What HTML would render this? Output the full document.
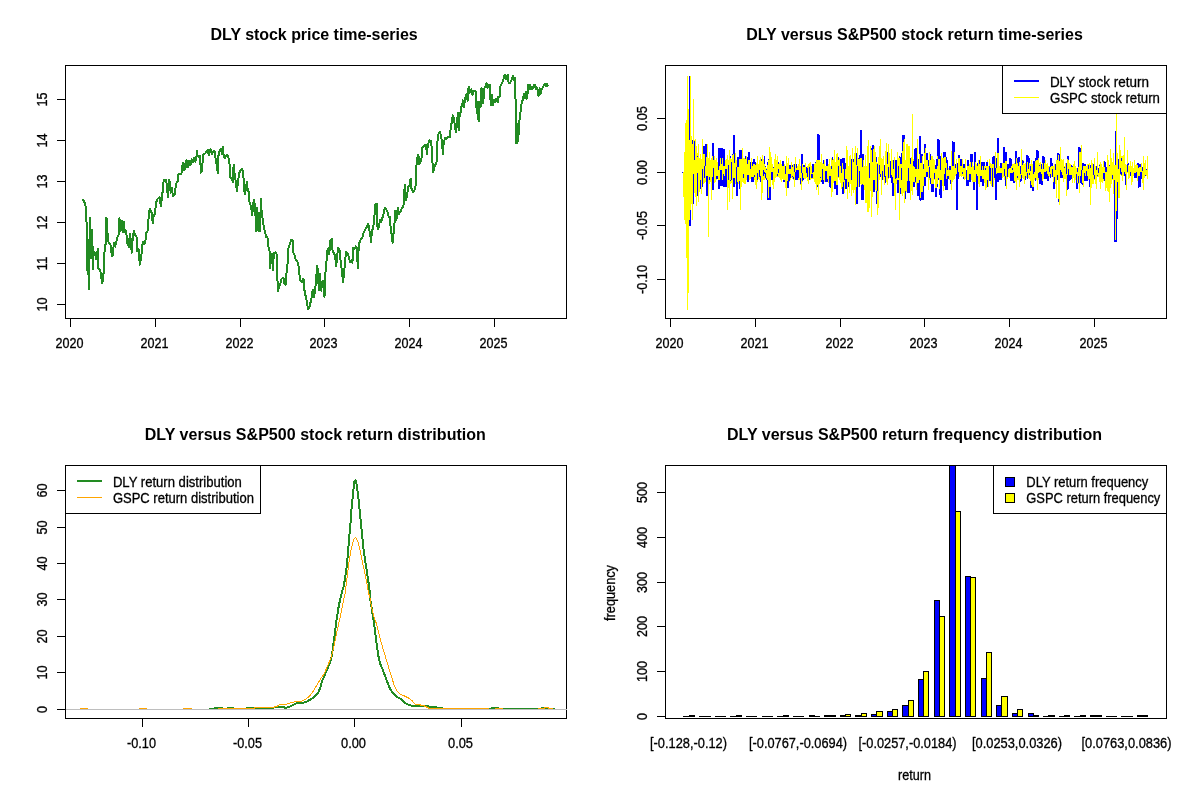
<!DOCTYPE html>
<html lang="en"><head><meta charset="utf-8"><title>DLY versus S&amp;P500</title>
<style>
html,body{margin:0;padding:0;background:#fff;}
body{width:1200px;height:800px;overflow:hidden;}
svg{display:block;font-family:'Liberation Sans', sans-serif;}
.ax{font-size:14px;fill:#000;stroke:#000;stroke-width:0.3px;}
.ti{font-size:16px;font-weight:bold;fill:#000;}
.c{shape-rendering:crispEdges;}
</style></head><body>
<svg width="1200" height="800" viewBox="0 0 1200 800">
<rect width="1200" height="800" fill="#fff"/>
<g class="c">
<rect x="65.5" y="65.5" width="501" height="253" fill="none" stroke="#000" stroke-width="1"/>
<path d="M70.5 318.5H494.5M70.5 318v9M155.5 318v9M240.5 318v9M324.5 318v9M409.5 318v9M494.5 318v9" stroke="#000" fill="none"/>
<path d="M65.5 304.5V99.5M66 304.5h-9M66 263.5h-9M66 222.5h-9M66 181.5h-9M66 140.5h-9M66 99.5h-9" stroke="#000" fill="none"/>
</g>
<text x="55.5" y="348" textLength="28" lengthAdjust="spacingAndGlyphs" class="ax">2020</text>
<text x="140.5" y="348" textLength="28" lengthAdjust="spacingAndGlyphs" class="ax">2021</text>
<text x="225.5" y="348" textLength="28" lengthAdjust="spacingAndGlyphs" class="ax">2022</text>
<text x="309.5" y="348" textLength="28" lengthAdjust="spacingAndGlyphs" class="ax">2023</text>
<text x="394.5" y="348" textLength="28" lengthAdjust="spacingAndGlyphs" class="ax">2024</text>
<text x="479.5" y="348" textLength="28" lengthAdjust="spacingAndGlyphs" class="ax">2025</text>
<text transform="translate(47,304.5) rotate(-90)" x="-7.0" y="0" textLength="14" lengthAdjust="spacingAndGlyphs" class="ax">10</text>
<text transform="translate(47,263.5) rotate(-90)" x="-7.0" y="0" textLength="14" lengthAdjust="spacingAndGlyphs" class="ax">11</text>
<text transform="translate(47,222.5) rotate(-90)" x="-7.0" y="0" textLength="14" lengthAdjust="spacingAndGlyphs" class="ax">12</text>
<text transform="translate(47,181.5) rotate(-90)" x="-7.0" y="0" textLength="14" lengthAdjust="spacingAndGlyphs" class="ax">13</text>
<text transform="translate(47,140.5) rotate(-90)" x="-7.0" y="0" textLength="14" lengthAdjust="spacingAndGlyphs" class="ax">14</text>
<text transform="translate(47,99.5) rotate(-90)" x="-7.0" y="0" textLength="14" lengthAdjust="spacingAndGlyphs" class="ax">15</text>
<text x="210.6" y="39.6" textLength="207.1" lengthAdjust="spacing" class="ti">DLY stock price time-series</text>
<path class="c" d="M82.2 199.5 L84.3 201.7 L85.5 206.2 L86.4 216.0 L87.0 247.5 L87.6 274.5 L88.2 240.0 L89.1 289.5 L90.0 218.2 L90.6 231.0 L91.2 258.0 L91.8 230.2 L92.4 240.0 L93.0 269.2 L93.6 252.0 L95.1 253.5 L96.3 259.5 L97.8 249.0 L98.1 268.5 L99.7 270.0 L100.8 273.0 L102.0 283.5 L103.2 279.0 L103.8 268.5 L104.4 253.5 L105.0 245.2 L105.7 244.5 L106.2 218.2 L107.2 219.0 L107.7 240.0 L109.2 243.3 L110.7 245.2 L111.9 256.5 L113.1 255.0 L113.7 243.0 L115.2 246.7 L116.4 241.5 L117.0 237.7 L118.5 235.2 L119.4 218.2 L120.6 231.0 L121.8 220.5 L123.0 231.7 L123.9 222.0 L124.8 232.5 L126.3 231.0 L126.9 243.0 L127.8 240.0 L128.7 247.5 L129.9 233.7 L130.8 240.0 L131.7 252.7 L132.6 240.0 L133.8 230.7 L135.0 234.7 L136.5 237.0 L137.1 251.2 L138.6 249.0 L139.8 264.7 L141.0 258.7 L141.9 250.5 L142.8 241.8 L144.3 244.5 L145.5 240.0 L146.4 232.5 L147.6 231.0 L148.2 223.5 L148.8 214.5 L149.7 208.5 L150.9 211.5 L152.1 213.7 L152.7 223.5 L153.6 216.0 L155.1 213.7 L155.0 214.0 L155.9 203.5 L157.4 199.0 L159.5 197.2 L161.0 206.5 L161.9 196.7 L162.8 190.7 L163.7 180.2 L166.1 179.8 L167.0 187.0 L167.9 197.5 L168.8 180.2 L170.0 181.7 L170.6 193.0 L171.8 187.7 L173.0 196.0 L174.8 194.8 L176.0 184.0 L177.5 181.7 L178.4 174.2 L179.9 173.5 L181.4 174.2 L182.3 166.0 L183.5 162.7 L184.4 170.5 L185.6 167.5 L186.5 160.0 L187.7 167.5 L188.9 160.7 L190.4 165.2 L191.6 159.2 L193.1 162.2 L194.3 157.7 L195.5 161.5 L196.4 157.0 L197.0 150.7 L197.6 156.2 L199.1 157.0 L200.0 155.5 L200.9 172.7 L202.1 170.5 L203.0 154.7 L204.5 154.0 L206.0 152.5 L207.8 149.5 L208.7 155.5 L210.5 149.5 L212.0 154.0 L213.5 151.0 L214.7 151.7 L215.6 158.5 L216.8 166.0 L218.0 173.5 L218.6 152.5 L219.8 151.0 L221.0 148.7 L221.9 154.0 L222.8 146.5 L223.7 155.5 L224.9 158.5 L226.7 154.7 L227.9 156.2 L229.1 160.0 L229.7 165.2 L230.3 177.2 L231.8 179.5 L233.0 181.7 L233.6 164.5 L234.5 173.5 L235.7 181.0 L236.9 191.5 L237.8 184.0 L239.0 173.5 L240.5 170.5 L242.3 168.7 L243.5 178.0 L244.7 194.5 L245.9 188.5 L246.8 181.7 L247.7 190.0 L248.6 191.5 L249.5 202.0 L251.0 206.5 L252.2 215.5 L253.1 205.0 L254.0 199.7 L255.2 208.0 L256.1 231.2 L257.3 208.0 L258.5 231.2 L260.0 230.5 L260.0 230.7 L260.9 198.5 L261.8 215.0 L263.0 219.5 L263.9 228.5 L265.1 231.5 L266.0 236.7 L267.5 237.5 L268.4 246.5 L269.6 251.0 L270.2 268.2 L271.1 257.0 L272.0 254.0 L272.9 270.5 L273.8 253.2 L275.6 252.5 L276.5 253.2 L277.1 273.5 L278.0 290.7 L279.2 286.2 L280.4 283.2 L281.6 278.7 L283.4 278.0 L284.6 284.0 L285.5 284.7 L286.4 273.5 L287.3 270.5 L287.9 251.0 L288.8 246.5 L290.0 243.5 L291.5 239.7 L292.7 240.5 L293.3 252.5 L294.5 254.7 L295.7 260.0 L297.2 261.5 L298.4 264.5 L299.3 273.5 L300.5 281.0 L302.0 281.7 L303.5 278.7 L304.4 290.0 L305.6 296.0 L306.8 301.2 L308.0 308.7 L309.2 308.0 L310.1 303.5 L311.3 300.5 L311.9 293.0 L313.1 290.0 L314.0 297.5 L315.2 288.5 L316.1 281.7 L317.0 266.0 L317.9 270.5 L318.8 290.0 L320.0 274.2 L321.2 290.7 L322.4 281.7 L323.6 281.0 L324.5 296.7 L325.1 275.0 L326.0 268.2 L327.2 251.0 L328.4 248.0 L329.3 254.0 L330.2 240.5 L331.7 239.0 L332.6 251.0 L333.8 253.2 L335.0 255.5 L336.2 266.0 L337.1 257.0 L338.0 248.0 L339.5 249.5 L340.7 261.5 L341.6 269.0 L343.1 282.5 L344.3 270.5 L345.2 260.0 L346.1 251.7 L347.6 253.2 L348.8 257.0 L350.0 262.2 L351.5 260.0 L352.4 263.0 L353.3 248.0 L354.8 248.7 L355.7 246.5 L356.9 248.0 L357.8 268.2 L358.7 246.5 L359.6 242.0 L361.1 239.0 L362.6 236.7 L363.8 232.2 L365.0 230.0 L366.5 227.7 L368.3 224.0 L369.2 230.0 L370.1 232.2 L371.0 242.0 L371.9 231.5 L372.8 228.5 L374.0 223.2 L375.2 204.5 L376.7 203.7 L377.6 229.2 L378.8 227.7 L380.0 219.5 L381.2 221.7 L382.4 218.0 L383.6 213.5 L384.8 207.5 L386.3 209.7 L387.5 212.0 L388.7 216.5 L389.9 217.2 L390.8 230.0 L392.0 236.0 L392.6 242.7 L393.5 234.5 L394.4 225.5 L395.0 211.2 L395.0 211.0 L395.9 220.0 L396.8 218.5 L397.7 208.0 L398.9 214.0 L400.4 211.7 L401.9 208.0 L403.4 207.2 L404.0 196.0 L404.9 184.7 L405.8 200.5 L407.0 196.0 L408.2 187.0 L409.4 186.2 L410.6 178.7 L411.5 188.5 L413.0 192.2 L414.5 190.0 L415.7 185.5 L416.3 167.5 L417.2 158.5 L418.4 154.7 L419.3 164.5 L420.5 161.5 L421.7 157.7 L422.3 148.0 L423.5 146.5 L425.0 145.0 L426.2 145.0 L426.8 154.0 L428.0 144.2 L429.5 140.5 L431.0 140.8 L431.9 149.5 L432.5 163.0 L433.1 172.0 L434.3 167.5 L435.5 164.5 L436.7 161.5 L437.3 143.5 L438.2 134.5 L439.7 131.5 L440.0 131.6 L441.0 135.8 L441.9 141.8 L442.9 153.8 L443.6 144.2 L444.8 138.2 L446.2 139.4 L447.7 137.0 L449.1 136.4 L450.1 137.0 L450.8 125.0 L451.8 122.6 L452.7 115.4 L453.7 117.8 L454.6 123.8 L455.8 132.2 L456.8 126.2 L457.8 113.0 L459.0 129.8 L459.7 113.0 L460.6 112.4 L461.1 106.4 L462.1 105.8 L462.8 100.4 L463.8 107.0 L464.7 102.2 L465.7 96.2 L466.6 93.8 L467.6 101.0 L468.6 86.6 L469.5 92.6 L470.5 90.8 L471.4 89.0 L472.4 95.0 L473.6 90.8 L475.5 90.8 L476.2 98.6 L476.7 113.0 L477.7 101.6 L478.6 121.4 L479.6 102.2 L480.6 107.0 L481.3 88.4 L482.2 89.0 L483.0 103.4 L483.9 96.2 L484.6 86.6 L485.6 87.2 L486.6 83.0 L487.5 87.8 L488.5 84.8 L489.7 84.8 L490.2 96.2 L490.9 105.2 L491.8 95.0 L493.0 105.2 L494.0 99.8 L495.2 102.2 L496.4 98.6 L497.6 102.2 L498.3 96.8 L499.5 97.4 L500.0 87.2 L501.2 84.8 L502.2 83.0 L503.1 80.6 L504.1 77.0 L504.8 74.6 L505.8 79.4 L506.7 78.2 L507.7 74.6 L508.6 83.0 L510.1 83.0 L511.0 80.6 L512.0 79.4 L512.7 75.8 L513.7 80.0 L514.6 77.6 L515.4 78.2 L515.6 116.6 L516.1 143.0 L516.8 127.4 L517.5 143.0 L518.2 123.8 L519.0 134.6 L519.4 121.4 L520.2 114.2 L521.1 107.0 L522.1 100.4 L523.0 99.8 L523.8 93.8 L524.7 98.0 L525.7 92.0 L526.9 98.6 L527.8 91.4 L528.3 84.8 L529.3 89.0 L530.2 84.8 L531.2 89.0 L532.6 89.0 L533.6 85.4 L534.8 84.8 L535.8 89.0 L536.7 87.2 L537.7 90.2 L538.6 96.2 L539.6 88.4 L540.6 93.8 L541.5 89.6 L542.7 87.8 L543.7 85.4 L544.9 84.2 L546.1 86.0 L547.0 83.6 L547.8 86.6" fill="none" stroke="#228B22" stroke-width="2" stroke-linejoin="round"/>
<g class="c">
<rect x="665.5" y="65.5" width="501" height="253" fill="none" stroke="#000" stroke-width="1"/>
<path d="M670.5 318.5H1094.5M670.5 318v9M755.5 318v9M840.5 318v9M924.5 318v9M1009.5 318v9M1094.5 318v9" stroke="#000" fill="none"/>
<path d="M665.5 279.5V118.5M666 279.5h-9M666 225.5h-9M666 172.5h-9M666 118.5h-9" stroke="#000" fill="none"/>
</g>
<text x="655.5" y="348" textLength="28" lengthAdjust="spacingAndGlyphs" class="ax">2020</text>
<text x="740.5" y="348" textLength="28" lengthAdjust="spacingAndGlyphs" class="ax">2021</text>
<text x="825.5" y="348" textLength="28" lengthAdjust="spacingAndGlyphs" class="ax">2022</text>
<text x="909.5" y="348" textLength="28" lengthAdjust="spacingAndGlyphs" class="ax">2023</text>
<text x="994.5" y="348" textLength="28" lengthAdjust="spacingAndGlyphs" class="ax">2024</text>
<text x="1079.5" y="348" textLength="28" lengthAdjust="spacingAndGlyphs" class="ax">2025</text>
<text transform="translate(647,279.5) rotate(-90)" x="-14.5" y="0" textLength="29" lengthAdjust="spacingAndGlyphs" class="ax">-0.10</text>
<text transform="translate(647,225.5) rotate(-90)" x="-14.5" y="0" textLength="29" lengthAdjust="spacingAndGlyphs" class="ax">-0.05</text>
<text transform="translate(647,172.5) rotate(-90)" x="-12.5" y="0" textLength="25" lengthAdjust="spacingAndGlyphs" class="ax">0.00</text>
<text transform="translate(647,118.5) rotate(-90)" x="-12.5" y="0" textLength="25" lengthAdjust="spacingAndGlyphs" class="ax">0.05</text>
<text x="746.2" y="39.6" textLength="336.6" lengthAdjust="spacing" class="ti">DLY versus S&amp;P500 stock return time-series</text>
<clipPath id="ctr"><rect x="666" y="66" width="500" height="252"/></clipPath>
<g class="c" clip-path="url(#ctr)">
<path d="M683.5 172V197M684.5 152V220M685.5 123V224M686.5 120V258M687.5 76V310M688.5 109V293M689.5 109V220M690.5 76V220M691.5 136V204M692.5 144V220M693.5 99V203M694.5 140V193M695.5 139V197M696.5 146V206M697.5 153V194M698.5 144V202M699.5 158V192M700.5 154V189M701.5 159V194M702.5 139V187M703.5 153V184M704.5 154V183M705.5 156V182M706.5 157V184M707.5 144V186M708.5 158V237M709.5 152V184M710.5 160V182M711.5 158V200M712.5 156V183M713.5 155V183M714.5 156V183M715.5 160V182M716.5 158V180M717.5 162V179M718.5 160V182M719.5 159V181M720.5 158V180M721.5 158V181M722.5 157V182M723.5 158V182M724.5 159V183M725.5 160V184M726.5 159V186M727.5 155V210M728.5 160V188M729.5 150V202M730.5 158V184M731.5 159V183M732.5 154V199M733.5 154V186M734.5 154V185M735.5 153V184M736.5 160V186M737.5 163V185M738.5 166V184M739.5 159V187M740.5 158V210M741.5 153V187M742.5 148V182M743.5 158V183M744.5 158V184M745.5 159V184M746.5 156V180M747.5 164V180M748.5 160V180M749.5 160V180M750.5 163V179M751.5 158V180M752.5 166V180M753.5 164V180M754.5 164V180M755.5 165V185M756.5 163V189M757.5 156V182M758.5 164V179M759.5 160V180M760.5 157V180M761.5 161V200M762.5 155V193M763.5 159V180M764.5 164V180M765.5 167V179M766.5 168V180M767.5 165V180M768.5 160V198M769.5 147V187M770.5 152V187M771.5 157V180M772.5 164V185M773.5 168V189M774.5 159V182M775.5 154V178M776.5 160V177M777.5 156V177M778.5 164V177M779.5 163V178M780.5 160V180M781.5 164V182M782.5 165V179M783.5 166V180M784.5 164V180M785.5 166V188M786.5 156V196M787.5 163V184M788.5 158V183M789.5 166V182M790.5 169V180M791.5 162V178M792.5 167V179M793.5 164V180M794.5 166V187M795.5 157V180M796.5 168V180M797.5 166V180M798.5 164V180M799.5 159V180M800.5 166V185M801.5 164V190M802.5 164V182M803.5 166V180M804.5 167V179M805.5 163V179M806.5 167V178M807.5 166V181M808.5 164V184M809.5 163V180M810.5 162V180M811.5 166V179M812.5 166V179M813.5 166V179M814.5 164V182M815.5 163V184M816.5 160V190M817.5 160V187M818.5 159V195M819.5 160V184M820.5 162V182M821.5 154V180M822.5 163V182M823.5 164V183M824.5 160V182M825.5 166V182M826.5 166V182M827.5 166V182M828.5 164V183M829.5 159V184M830.5 166V188M831.5 158V197M832.5 160V192M833.5 159V183M834.5 150V181M835.5 162V184M836.5 154V187M837.5 153V185M838.5 160V178M839.5 158V180M840.5 166V183M841.5 166V189M842.5 163V193M843.5 163V187M844.5 163V193M845.5 168V182M846.5 146V180M847.5 150V199M848.5 166V187M849.5 156V193M850.5 155V184M851.5 159V196M852.5 148V190M853.5 159V193M854.5 153V190M855.5 146V205M856.5 153V203M857.5 148V187M858.5 159V187M859.5 159V187M860.5 158V184M861.5 158V186M862.5 160V185M863.5 158V187M864.5 166V190M865.5 155V203M866.5 166V203M867.5 146V212M868.5 140V212M869.5 163V208M870.5 146V191M871.5 150V217M872.5 149V197M873.5 149V192M874.5 146V180M875.5 152V190M876.5 162V193M877.5 163V215M878.5 157V208M879.5 146V180M880.5 139V177M881.5 158V195M882.5 159V180M883.5 156V180M884.5 166V185M885.5 151V183M886.5 143V182M887.5 164V185M888.5 144V179M889.5 153V178M890.5 162V178M891.5 149V182M892.5 160V183M893.5 169V190M894.5 157V196M895.5 166V210M896.5 163V184M897.5 152V184M898.5 158V193M899.5 158V220M900.5 164V193M901.5 164V194M902.5 151V196M903.5 139V193M904.5 139V203M905.5 160V199M906.5 144V192M907.5 144V192M908.5 146V192M909.5 146V193M910.5 158V200M911.5 157V191M912.5 114V195M913.5 159V187M914.5 167V184M915.5 169V183M916.5 153V190M917.5 139V192M918.5 169V196M919.5 154V200M920.5 154V199M921.5 156V192M922.5 156V192M923.5 169V192M924.5 148V186M925.5 148V185M926.5 160V177M927.5 160V176M928.5 166V190M929.5 152V180M930.5 160V183M931.5 156V186M932.5 156V186M933.5 159V184M934.5 160V180M935.5 166V188M936.5 166V188M937.5 156V184M938.5 156V180M939.5 159V189M940.5 170V190M941.5 153V182M942.5 158V186M943.5 157V191M944.5 157V184M945.5 157V184M946.5 163V189M947.5 170V180M948.5 168V179M949.5 170V180M950.5 166V184M951.5 151V190M952.5 166V182M953.5 152V180M954.5 152V179M955.5 168V176M956.5 159V177M957.5 174V176M958.5 158V179M959.5 158V177M960.5 166V176M961.5 166V177M962.5 159V176M963.5 168V179M964.5 164V180M965.5 159V179M966.5 170V180M967.5 166V182M968.5 160V180M969.5 164V180M970.5 162V182M971.5 162V180M972.5 162V182M973.5 166V189M974.5 162V184M975.5 162V182M976.5 164V180M977.5 166V180M978.5 160V184M979.5 164V187M980.5 156V180M981.5 168V182M982.5 166V182M983.5 163V182M984.5 163V183M985.5 166V190M986.5 163V188M987.5 160V180M988.5 166V187M989.5 159V180M990.5 163V184M991.5 164V186M992.5 164V187M993.5 158V187M994.5 158V180M995.5 152V180M996.5 168V180M997.5 153V180M998.5 152V179M999.5 166V178M1000.5 168V178M1001.5 164V178M1002.5 163V178M1003.5 163V177M1004.5 163V180M1005.5 161V180M1006.5 161V189M1007.5 169V179M1008.5 164V177M1009.5 168V178M1010.5 158V179M1011.5 159V179M1012.5 164V179M1013.5 164V180M1014.5 163V181M1015.5 160V182M1016.5 158V190M1017.5 163V180M1018.5 164V180M1019.5 162V187M1020.5 166V179M1021.5 149V179M1022.5 164V178M1023.5 160V179M1024.5 164V184M1025.5 163V179M1026.5 166V178M1027.5 162V177M1028.5 166V178M1029.5 163V179M1030.5 164V182M1031.5 160V187M1032.5 164V187M1033.5 161V187M1034.5 172V180M1035.5 158V179M1036.5 159V180M1037.5 159V190M1038.5 158V180M1039.5 163V180M1040.5 162V180M1041.5 164V180M1042.5 163V181M1043.5 163V179M1044.5 163V178M1045.5 160V178M1046.5 164V178M1047.5 163V178M1048.5 166V178M1049.5 166V177M1050.5 167V177M1051.5 166V177M1052.5 163V177M1053.5 166V182M1054.5 164V180M1055.5 164V184M1056.5 160V198M1057.5 160V180M1058.5 154V199M1059.5 160V205M1060.5 147V178M1061.5 159V177M1062.5 160V178M1063.5 159V182M1064.5 166V179M1065.5 163V179M1066.5 170V196M1067.5 159V180M1068.5 160V180M1069.5 163V180M1070.5 164V179M1071.5 167V179M1072.5 166V183M1073.5 164V178M1074.5 161V183M1075.5 166V180M1076.5 168V180M1077.5 168V183M1078.5 167V184M1079.5 152V193M1080.5 152V182M1081.5 145V184M1082.5 166V184M1083.5 166V187M1084.5 166V180M1085.5 166V180M1086.5 166V180M1087.5 164V180M1088.5 164V180M1089.5 163V186M1090.5 168V205M1091.5 160V188M1092.5 163V184M1093.5 170V184M1094.5 158V180M1095.5 166V184M1096.5 170V189M1097.5 152V177M1098.5 172V177M1099.5 164V182M1100.5 162V189M1101.5 164V182M1102.5 167V183M1103.5 161V181M1104.5 166V181M1105.5 167V191M1106.5 167V188M1107.5 155V191M1108.5 160V192M1109.5 165V202M1110.5 149V188M1111.5 158V184M1112.5 162V180M1113.5 153V194M1114.5 165V180M1115.5 165V240M1116.5 109V240M1117.5 153V182M1118.5 159V198M1119.5 145V198M1120.5 150V175M1121.5 156V176M1122.5 156V181M1123.5 155V176M1124.5 137V176M1125.5 164V185M1126.5 165V190M1127.5 150V173M1128.5 165V179M1129.5 166V178M1130.5 161V176M1131.5 166V185M1132.5 162V182M1133.5 168V176M1134.5 160V178M1135.5 165V178M1136.5 164V178M1137.5 165V181M1138.5 165V188M1139.5 164V187M1140.5 167V187M1141.5 163V179M1142.5 167V183M1143.5 156V190M1144.5 163V178M1145.5 160V176M1146.5 169V176M1147.5 156V179" stroke="#FFFF00" stroke-width="1" fill="none"/>
<path d="M682 172h1v1h-1zM689 76h1v64h-1zM692 140h1v4h-1zM694 141h1v19h-1zM697 156h1v1h-1zM703 146h2v8h-2zM705 144h2v13h-2zM705 157h1v9h-1zM712 143h2v13h-2zM713 156h1v4h-1zM718 148h2v18h-2zM720 148h3v10h-3zM723 149h2v17h-2zM721 158h1v6h-1zM730 156h1v2h-1zM732 154h1v1h-1zM733 135h2v19h-2zM734 154h1v9h-1zM737 157h2v10h-2zM739 150h3v9h-3zM745 156h1v3h-1zM747 157h1v7h-1zM748 152h2v8h-2zM750 162h1v7h-1zM752 162h1v4h-1zM753 159h2v5h-2zM755 162h1v3h-1zM761 159h1v2h-1zM764 156h1v8h-1zM765 166h1v1h-1zM766 169h1v1h-1zM767 162h1v3h-1zM768 159h1v1h-1zM773 167h1v1h-1zM778 162h1v2h-1zM778 169h1v4h-1zM782 161h2v5h-2zM785 166h1v7h-1zM789 165h2v4h-2zM792 165h1v2h-1zM794 164h1v8h-1zM796 164h1v4h-1zM801 154h2v10h-2zM801 164h1v9h-1zM803 165h2v2h-2zM806 167h1v6h-1zM809 167h1v10h-1zM812 164h2v8h-2zM815 162h1v1h-1zM817 134h2v26h-2zM819 135h1v25h-1zM823 160h1v4h-1zM826 159h2v7h-2zM693 174h1v4h-1zM697 173h1v5h-1zM702 169h1v9h-1zM704 166h1v12h-1zM713 168h1v10h-1zM716 176h2v2h-2zM718 166h1v4h-1zM720 170h2v8h-2zM723 174h1v4h-1zM725 169h2v9h-2zM728 165h1v13h-1zM731 162h1v16h-1zM736 167h1v11h-1zM743 174h1v4h-1zM757 173h1v4h-1zM759 170h1v7h-1zM763 170h1v6h-1zM765 173h1v4h-1zM772 172h1v6h-1zM789 174h2v4h-2zM795 172h4v6h-4zM802 173h1v5h-1zM807 168h1v5h-1zM811 174h2v4h-2zM822 169h1v9h-1zM825 171h2v7h-2zM689 220h2v6h-2zM690 210h1v10h-1zM693 176h1v28h-1zM697 173h1v23h-1zM700 180h1v9h-1zM702 169h1v18h-1zM704 168h1v6h-1zM706 176h2v20h-2zM709 177h1v3h-1zM712 177h2v13h-2zM713 168h1v9h-1zM716 176h2v3h-2zM718 180h2v9h-2zM718 168h1v2h-1zM720 170h2v16h-2zM722 180h1v6h-1zM723 176h2v11h-2zM725 170h2v17h-2zM728 168h1v12h-1zM730 180h1v1h-1zM731 168h1v12h-1zM733 178h2v9h-2zM736 168h1v14h-1zM736 182h2v14h-2zM739 181h1v8h-1zM743 174h1v3h-1zM747 175h2v7h-2zM751 177h3v5h-3zM754 175h1v2h-1zM757 173h1v7h-1zM759 172h1v4h-1zM760 176h1v6h-1zM763 172h2v2h-2zM765 173h1v5h-1zM766 178h1v2h-1zM767 180h1v20h-1zM769 187h2v13h-2zM768 198h1v2h-1zM771 172h2v8h-2zM777 174h1v2h-1zM778 169h1v4h-1zM783 180h2v2h-2zM785 168h1v6h-1zM787 181h2v7h-2zM788 174h2v7h-2zM790 168h1v1h-1zM792 176h1v1h-1zM793 177h1v2h-1zM794 168h1v4h-1zM795 174h3v6h-3zM796 170h3v4h-3zM800 178h1v6h-1zM801 168h1v5h-1zM802 173h1v8h-1zM803 178h1v2h-1zM806 168h1v3h-1zM807 171h1v6h-1zM809 173h1v7h-1zM811 174h2v3h-2zM812 168h1v5h-1zM817 185h1v2h-1zM820 177h1v1h-1zM821 180h1v2h-1zM822 169h1v11h-1zM822 180h2v4h-2zM825 171h2v11h-2zM827 179h1v3h-1zM829 176h1v11h-1zM832 157h1v3h-1zM831 166h1v3h-1zM838 157h1v3h-1zM838 166h1v11h-1zM840 159h2v7h-2zM841 166h1v7h-1zM842 158h3v5h-3zM843 163h3v6h-3zM844 169h1v9h-1zM851 159h1v19h-1zM853 159h1v3h-1zM856 153h1v12h-1zM857 166h1v12h-1zM859 155h1v4h-1zM858 158h1v1h-1zM860 130h2v28h-2zM862 154h2v6h-2zM862 160h1v7h-1zM859 171h1v7h-1zM869 163h1v15h-1zM871 148h1v2h-1zM872 145h2v4h-2zM872 149h1v13h-1zM876 157h1v5h-1zM877 164h1v14h-1zM879 165h1v8h-1zM880 174h1v3h-1zM882 171h1v7h-1zM884 165h1v12h-1zM887 152h1v12h-1zM888 167h1v10h-1zM890 161h1v12h-1zM890 175h2v3h-2zM893 160h1v9h-1zM895 160h2v10h-2zM896 170h1v8h-1zM898 166h1v12h-1zM899 156h1v2h-1zM900 157h1v7h-1zM901 153h1v11h-1zM902 135h1v16h-1zM903 135h2v4h-2zM903 139h1v3h-1zM908 168h1v10h-1zM910 158h1v6h-1zM913 161h1v5h-1zM914 149h1v18h-1zM915 148h2v21h-2zM918 159h1v10h-1zM919 136h2v18h-2zM920 154h2v9h-2zM921 154h2v2h-2zM923 164h1v5h-1zM924 144h2v4h-2zM924 148h1v5h-1zM926 153h2v7h-2zM927 173h1v4h-1zM928 160h1v6h-1zM929 167h1v11h-1zM930 154h1v6h-1zM934 173h1v5h-1zM935 165h2v4h-2zM936 159h2v7h-2zM937 139h2v17h-2zM938 140h2v19h-2zM940 156h1v14h-1zM943 152h3v5h-3zM943 157h1v1h-1zM946 157h1v6h-1zM947 160h1v10h-1zM944 174h2v4h-2zM945 170h1v4h-1zM949 166h2v4h-2zM952 141h1v25h-1zM953 142h2v10h-2zM953 152h1v14h-1zM955 164h1v4h-1zM957 163h1v11h-1zM958 155h2v3h-2zM960 159h2v7h-2zM962 172h1v2h-1zM963 164h2v4h-2zM966 170h1v8h-1zM967 160h2v6h-2zM970 154h3v8h-3zM971 162h1v5h-1zM974 152h2v10h-2zM974 162h1v8h-1zM977 163h1v3h-1zM979 160h1v4h-1zM956 174h1v4h-1zM969 174h2v4h-2zM976 174h1v4h-1zM981 162h1v8h-1zM982 162h3v4h-3zM983 166h1v4h-1zM986 162h2v4h-2zM989 166h1v12h-1zM992 157h2v7h-2zM993 156h2v2h-2zM994 158h1v10h-1zM994 168h2v8h-2zM996 158h1v10h-1zM997 138h2v15h-2zM1000 163h2v5h-2zM1003 147h2v16h-2zM1005 152h2v9h-2zM1007 164h2v5h-2zM1009 158h2v10h-2zM994 168h2v10h-2zM998 173h4v5h-4zM1104 161h1v6h-1zM1105 162h1v6h-1zM1106 167h1v5h-1zM1109 165h1v1h-1zM1115 131h1v34h-1zM1118 159h1v10h-1zM1121 158h1v3h-1zM1120 168h1v4h-1zM1121 172h1v2h-1zM1103 173h2v5h-2zM1112 175h1v3h-1zM1124 172h1v3h-1zM1125 174h1v4h-1zM1127 164h1v8h-1zM1128 163h1v2h-1zM1137 163h2v2h-2zM1138 165h1v3h-1zM1139 164h2v3h-2zM1142 167h1v4h-1zM1146 169h1v1h-1zM1130 172h1v4h-1zM1134 173h3v5h-3zM1136 172h1v2h-1zM1138 176h2v2h-2zM1140 172h2v6h-2zM1145 175h1v1h-1zM830 176h1v12h-1zM834 181h2v8h-2zM836 185h2v10h-2zM838 168h1v9h-1zM841 168h1v5h-1zM842 187h2v7h-2zM843 182h1v5h-1zM844 168h1v12h-1zM845 179h2v10h-2zM848 182h1v5h-1zM851 168h1v12h-1zM856 187h2v17h-2zM857 168h1v19h-1zM859 171h1v16h-1zM861 185h3v15h-3zM862 184h1v2h-1zM869 168h1v10h-1zM873 180h2v12h-2zM876 191h1v13h-1zM877 168h1v23h-1zM879 168h1v6h-1zM880 174h1v3h-1zM882 171h1v9h-1zM884 168h1v8h-1zM885 176h1v7h-1zM888 168h1v10h-1zM890 168h1v9h-1zM891 177h2v6h-2zM892 183h2v13h-2zM895 168h1v11h-1zM897 180h2v13h-2zM900 188h1v6h-1zM901 168h1v12h-1zM905 191h1v8h-1zM907 181h3v12h-3zM908 168h1v13h-1zM913 182h2v5h-2zM915 177h1v5h-1zM917 183h2v13h-2zM919 180h1v20h-1zM920 198h1v3h-1zM921 192h3v8h-3zM923 186h1v6h-1zM924 177h2v9h-2zM926 172h2v5h-2zM929 168h1v10h-1zM930 178h1v6h-1zM931 184h3v8h-3zM934 173h1v6h-1zM935 188h2v9h-2zM937 184h1v3h-1zM938 178h1v2h-1zM939 189h1v6h-1zM940 180h2v18h-2zM944 174h2v12h-2zM945 179h3v11h-3zM945 168h1v6h-1zM947 176h2v3h-2zM950 180h1v4h-1zM956 174h2v36h-2zM957 168h1v6h-1zM958 172h1v7h-1zM962 172h1v2h-1zM963 177h1v2h-1zM966 170h1v10h-1zM966 180h3v6h-3zM969 174h2v8h-2zM973 182h2v8h-2zM976 176h2v34h-2zM980 176h2v6h-2zM982 179h2v7h-2zM985 168h1v2h-1zM987 180h1v7h-1zM989 168h2v13h-2zM992 168h1v19h-1zM994 168h2v6h-2zM995 174h2v26h-2zM997 173h2v9h-2zM999 175h3v5h-3zM1004 169h1v7h-1zM1005 176h1v10h-1zM1007 169h1v8h-1zM1058 199h1v3h-1zM1105 168h2v4h-2zM1103 176h1v3h-1zM1104 173h1v8h-1zM1112 175h1v4h-1zM1114 180h1v62h-1zM1115 240h2v2h-2zM1116 211h1v31h-1zM1117 182h1v37h-1zM1118 168h1v1h-1zM1120 168h1v6h-1zM1121 172h1v3h-1zM1124 172h1v4h-1zM1125 174h1v11h-1zM1127 168h1v4h-1zM1130 172h1v4h-1zM1134 173h3v5h-3zM1136 172h1v1h-1zM1138 176h1v12h-1zM1139 178h2v9h-2zM1140 172h2v7h-2zM1142 168h1v3h-1zM1145 175h1v1h-1zM1146 169h1v1h-1zM1010 173h1v8h-1zM1011 159h1v7h-1zM1011 173h1v8h-1zM1012 168h1v2h-1zM1012 173h1v8h-1zM1013 172h1v11h-1zM1014 181h1v2h-1zM1015 151h1v13h-1zM1016 151h1v7h-1zM1017 158h1v5h-1zM1017 176h1v2h-1zM1018 157h1v9h-1zM1019 157h1v5h-1zM1020 166h1v8h-1zM1020 179h1v3h-1zM1021 175h1v6h-1zM1022 160h1v5h-1zM1023 161h1v2h-1zM1025 176h1v4h-1zM1026 155h1v17h-1zM1027 155h1v7h-1zM1027 173h1v6h-1zM1028 156h1v13h-1zM1029 158h1v5h-1zM1029 173h1v2h-1zM1030 166h1v5h-1zM1030 181h1v7h-1zM1031 185h1v3h-1zM1032 187h1v4h-1zM1033 161h1v13h-1zM1033 187h1v4h-1zM1034 161h1v11h-1zM1035 158h1v3h-1zM1035 178h1v3h-1zM1036 150h1v10h-1zM1037 150h1v10h-1zM1038 151h1v7h-1zM1038 173h1v5h-1zM1039 165h1v1h-1zM1039 172h1v12h-1zM1040 172h1v12h-1zM1041 164h1v5h-1zM1041 174h1v11h-1zM1042 156h1v7h-1zM1042 181h1v4h-1zM1043 156h1v13h-1zM1044 157h1v6h-1zM1044 172h1v7h-1zM1045 172h1v7h-1zM1046 171h1v8h-1zM1047 174h1v7h-1zM1048 176h1v5h-1zM1049 167h1v5h-1zM1050 158h1v9h-1zM1050 174h1v4h-1zM1051 158h1v8h-1zM1052 163h1v3h-1zM1052 169h1v8h-1zM1053 182h1v7h-1zM1054 177h1v12h-1zM1055 164h1v6h-1zM1057 153h1v7h-1zM1057 175h1v5h-1zM1058 153h1v2h-1zM1059 154h1v7h-1zM1060 170h1v8h-1zM1061 172h1v6h-1zM1062 175h1v3h-1zM1064 167h1v1h-1zM1066 163h1v11h-1zM1067 156h1v3h-1zM1067 175h1v15h-1zM1068 156h1v4h-1zM1068 169h1v20h-1zM1069 175h1v6h-1zM1070 175h1v5h-1zM1071 165h1v2h-1zM1071 175h1v4h-1zM1072 166h1v1h-1zM1076 174h1v15h-1zM1077 168h1v4h-1zM1077 183h1v6h-1zM1078 147h1v20h-1zM1078 176h1v7h-1zM1079 147h1v5h-1zM1080 148h1v4h-1zM1080 176h1v7h-1zM1081 170h1v14h-1zM1082 163h1v7h-1zM1082 183h1v2h-1zM1083 163h1v3h-1zM1084 164h1v2h-1zM1084 173h1v8h-1zM1085 164h1v2h-1zM1085 176h1v5h-1zM1086 171h1v10h-1zM1087 176h1v5h-1zM1088 165h1v4h-1zM1089 179h1v8h-1zM1090 165h1v3h-1zM1093 164h1v11h-1zM1094 175h1v4h-1zM1096 166h1v4h-1zM1097 175h1v1h-1zM1098 168h1v5h-1zM1099 165h1v1h-1z" fill="#0000FF" stroke="none"/>
</g>
<g class="c"><rect x="1002.5" y="65.5" width="164" height="48" fill="#fff" stroke="#000"/>
<path d="M1014 81H1039" stroke="#0000FF" stroke-width="2"/><path d="M1014 97.5H1039" stroke="#FFFF00" stroke-width="1"/></g>
<text x="1049.9" y="86.7" textLength="99" lengthAdjust="spacingAndGlyphs" class="ax">DLY stock return</text>
<text x="1049.9" y="102.7" textLength="110" lengthAdjust="spacingAndGlyphs" class="ax">GSPC stock return</text>
<g class="c">
<rect x="65.5" y="465.5" width="501" height="253" fill="none" stroke="#000" stroke-width="1"/>
</g>
<text x="144.7" y="439.6" textLength="341.2" lengthAdjust="spacing" class="ti">DLY versus S&amp;P500 stock return distribution</text>
<text x="727.0" y="439.6" textLength="375.0" lengthAdjust="spacing" class="ti">DLY versus S&amp;P500 return frequency distribution</text>
<g class="c">
<path d="M142.5 718v9M248.5 718v9M354.5 718v9M461.5 718v9" stroke="#000" fill="none"/>
<path d="M66 709.5h-9M66 672.5h-9M66 636.5h-9M66 599.5h-9M66 563.5h-9M66 527.5h-9M66 490.5h-9" stroke="#000" fill="none"/>
</g>
<text x="127.0" y="748" textLength="29" lengthAdjust="spacingAndGlyphs" class="ax">-0.10</text>
<text x="233.0" y="748" textLength="29" lengthAdjust="spacingAndGlyphs" class="ax">-0.05</text>
<text x="341.0" y="748" textLength="25" lengthAdjust="spacingAndGlyphs" class="ax">0.00</text>
<text x="448.0" y="748" textLength="25" lengthAdjust="spacingAndGlyphs" class="ax">0.05</text>
<text transform="translate(47,709.5) rotate(-90)" x="-3.5" y="0" textLength="7" lengthAdjust="spacingAndGlyphs" class="ax">0</text>
<text transform="translate(47,672.5) rotate(-90)" x="-7.0" y="0" textLength="14" lengthAdjust="spacingAndGlyphs" class="ax">10</text>
<text transform="translate(47,636.5) rotate(-90)" x="-7.0" y="0" textLength="14" lengthAdjust="spacingAndGlyphs" class="ax">20</text>
<text transform="translate(47,599.5) rotate(-90)" x="-7.0" y="0" textLength="14" lengthAdjust="spacingAndGlyphs" class="ax">30</text>
<text transform="translate(47,563.5) rotate(-90)" x="-7.0" y="0" textLength="14" lengthAdjust="spacingAndGlyphs" class="ax">40</text>
<text transform="translate(47,527.5) rotate(-90)" x="-7.0" y="0" textLength="14" lengthAdjust="spacingAndGlyphs" class="ax">50</text>
<text transform="translate(47,490.5) rotate(-90)" x="-7.0" y="0" textLength="14" lengthAdjust="spacingAndGlyphs" class="ax">60</text>
<path class="c" d="M209.0 709.0 L214.0 709.0 L214.5 708.0 L222.0 708.0 L222.5 709.0 L227.0 709.0 L227.5 708.0 L233.0 708.0 L235.0 709.0 L246.0 709.0 L246.5 708.0 L254.0 708.0 L254.5 709.0 L272.0 709.0 L270.0 707.9 L275.4 707.4 L280.8 706.6 L286.2 707.9 L289.8 706.6 L293.4 704.8 L297.9 702.5 L301.5 703.0 L306.0 702.0 L311.4 698.9 L315.0 696.2 L318.2 692.6 L320.4 687.2 L322.2 680.9 L324.9 674.6 L327.6 668.3 L330.3 662.0 L331.7 656.6 L333.0 647.6 L334.4 636.8 L335.7 626.0 L337.0 617.0 L338.4 608.0 L340.2 599.0 L342.0 591.8 L343.8 586.0 L345.2 577.0 L346.5 568.0 L347.4 559.0 L348.3 550.0 L348.8 541.0 L349.7 532.0 L350.5 523.0 L351.0 514.0 L351.9 505.0 L352.8 496.0 L353.7 487.0 L354.4 481.6 L355.3 480.2 L356.2 481.6 L356.9 487.0 L358.2 496.0 L359.1 505.0 L360.0 514.0 L360.9 523.0 L361.8 532.0 L362.7 541.0 L363.6 550.0 L364.9 559.0 L366.3 568.0 L367.7 577.0 L369.0 586.0 L370.1 595.0 L370.1 599.0 L371.7 608.0 L373.0 617.0 L374.4 626.0 L375.8 636.8 L377.1 647.6 L378.5 656.6 L380.2 663.8 L382.5 669.2 L385.2 676.4 L387.9 683.6 L389.7 688.1 L392.4 692.6 L396.0 696.2 L400.5 698.9 L404.1 702.5 L407.7 704.3 L410.4 705.2 L411.3 705.8 L428.0 706.0 L429.0 707.0 L436.5 707.0 L437.0 708.0 L442.5 708.0 L443.0 709.0 L491.0 709.0 L491.5 708.0 L498.5 708.0 L499.0 709.0 L541.0 709.0 L541.5 708.0 L544.0 708.0 L544.5 709.0 L554.7 709.0" fill="none" stroke="#228B22" stroke-width="2" stroke-linejoin="round"/>
<path class="c" d="M80.0 708.4 L88.0 708.4" fill="none" stroke="#FFA500" stroke-width="1"/>
<path class="c" d="M139.0 708.4 L147.0 708.4" fill="none" stroke="#FFA500" stroke-width="1"/>
<path class="c" d="M183.0 708.4 L192.0 708.4" fill="none" stroke="#FFA500" stroke-width="1"/>
<path class="c" d="M218.0 708.5 L254.0 708.5 L254.0 707.5 L274.0 707.5 L274.0 706.5 L277.0 706.5 L278.1 705.2 L280.1 704.5 L286.2 704.3 L291.6 702.5 L296.1 701.6 L301.5 701.1 L306.0 698.9 L309.6 696.2 L312.3 692.6 L315.0 688.1 L317.7 683.6 L320.4 679.1 L323.1 675.5 L325.8 670.1 L328.5 663.8 L331.2 657.5 L333.0 650.3 L334.8 642.2 L336.6 633.2 L338.4 625.1 L340.2 617.0 L342.0 608.0 L343.8 599.0 L345.6 591.8 L345.2 593.2 L346.5 582.4 L347.8 571.6 L349.2 560.8 L351.0 550.0 L352.8 542.8 L354.1 538.7 L355.3 537.4 L356.6 538.7 L358.2 542.8 L360.0 550.0 L362.2 560.8 L364.5 571.6 L366.8 582.4 L368.6 593.2 L369.9 597.2 L371.7 608.0 L374.0 617.0 L376.6 624.2 L378.9 633.2 L381.6 644.0 L384.3 653.0 L387.0 662.0 L389.7 671.0 L392.0 678.2 L394.2 685.4 L396.9 690.8 L400.5 694.4 L405.0 696.2 L408.6 698.0 L412.2 700.7 L415.3 704.5 L420.0 704.5 L420.0 705.5 L424.0 705.5 L425.0 706.5 L428.0 707.5 L429.0 708.5 L488.7 708.5 L488.7 709.5 L495.3 709.5 L495.3 708.5 L502.7 708.5 L502.7 709.5 L538.0 709.5 L538.0 708.5 L544.0 708.5 L544.0 707.5 L548.7 707.5 L548.7 708.5 L552.7 708.5" fill="none" stroke="#FFA500" stroke-width="1"/>
<path class="c" d="M65.5 709.5H566.5" stroke="#BEBEBE" fill="none"/>
<g class="c"><rect x="65.5" y="465.5" width="195" height="48" fill="#fff" stroke="#000"/>
<path d="M77 481H102" stroke="#228B22" stroke-width="2"/><path d="M77 497.5H102" stroke="#FFA500" stroke-width="1"/></g>
<text x="112.9" y="486.7" textLength="129" lengthAdjust="spacingAndGlyphs" class="ax">DLY return distribution</text>
<text x="112.9" y="502.7" textLength="141" lengthAdjust="spacingAndGlyphs" class="ax">GSPC return distribution</text>
<clipPath id="cbr"><rect x="665" y="465" width="502" height="254"/></clipPath>
<g class="c" clip-path="url(#cbr)">
<path d="M683.0 716.5H690.0" stroke="#000" fill="none"/>
<path d="M689.0 716.0H695.0" stroke="#000" stroke-width="2" fill="none"/>
<path d="M699.0 716.5H705.0" stroke="#000" fill="none"/>
<path d="M704.0 716.5H711.0" stroke="#000" fill="none"/>
<path d="M715.0 716.5H721.0" stroke="#000" fill="none"/>
<path d="M720.0 716.5H726.0" stroke="#000" fill="none"/>
<path d="M730.0 716.5H737.0" stroke="#000" fill="none"/>
<path d="M736.0 716.0H742.0" stroke="#000" stroke-width="2" fill="none"/>
<path d="M746.0 716.5H752.0" stroke="#000" fill="none"/>
<path d="M751.0 716.5H757.0" stroke="#000" fill="none"/>
<path d="M762.0 716.5H768.0" stroke="#000" fill="none"/>
<path d="M767.0 716.5H773.0" stroke="#000" fill="none"/>
<path d="M777.0 716.5H784.0" stroke="#000" fill="none"/>
<path d="M783.0 716.0H789.0" stroke="#000" stroke-width="2" fill="none"/>
<path d="M793.0 716.5H799.0" stroke="#000" fill="none"/>
<path d="M798.0 716.5H804.0" stroke="#000" fill="none"/>
<path d="M809.0 716.0H815.0" stroke="#000" stroke-width="2" fill="none"/>
<path d="M814.0 716.5H820.0" stroke="#000" fill="none"/>
<path d="M824.0 716.0H830.0" stroke="#000" stroke-width="2" fill="none"/>
<path d="M829.0 716.0H836.0" stroke="#000" stroke-width="2" fill="none"/>
<rect x="840.5" y="715.5" width="5.0" height="1.0" fill="#0000FF" stroke="#000"/>
<rect x="845.5" y="714.5" width="5.0" height="2.0" fill="#FFFF00" stroke="#000"/>
<rect x="855.5" y="715.5" width="6.0" height="1.0" fill="#0000FF" stroke="#000"/>
<rect x="861.5" y="713.5" width="5.0" height="3.0" fill="#FFFF00" stroke="#000"/>
<rect x="871.5" y="714.5" width="5.0" height="2.0" fill="#0000FF" stroke="#000"/>
<rect x="876.5" y="711.5" width="6.0" height="5.0" fill="#FFFF00" stroke="#000"/>
<rect x="887.5" y="711.5" width="5.0" height="5.0" fill="#0000FF" stroke="#000"/>
<rect x="892.5" y="709.5" width="5.0" height="7.0" fill="#FFFF00" stroke="#000"/>
<rect x="902.5" y="705.5" width="6.0" height="11.0" fill="#0000FF" stroke="#000"/>
<rect x="908.5" y="700.5" width="5.0" height="16.0" fill="#FFFF00" stroke="#000"/>
<rect x="918.5" y="679.5" width="5.0" height="37.0" fill="#0000FF" stroke="#000"/>
<rect x="923.5" y="671.5" width="5.0" height="45.0" fill="#FFFF00" stroke="#000"/>
<rect x="934.5" y="600.5" width="5.0" height="116.0" fill="#0000FF" stroke="#000"/>
<rect x="939.5" y="616.5" width="5.0" height="100.0" fill="#FFFF00" stroke="#000"/>
<rect x="949.5" y="447.5" width="6.0" height="269.0" fill="#0000FF" stroke="#000"/>
<rect x="955.5" y="511.5" width="5.0" height="205.0" fill="#FFFF00" stroke="#000"/>
<rect x="965.5" y="576.5" width="5.0" height="140.0" fill="#0000FF" stroke="#000"/>
<rect x="970.5" y="577.5" width="5.0" height="139.0" fill="#FFFF00" stroke="#000"/>
<rect x="981.5" y="678.5" width="5.0" height="38.0" fill="#0000FF" stroke="#000"/>
<rect x="986.5" y="652.5" width="5.0" height="64.0" fill="#FFFF00" stroke="#000"/>
<rect x="996.5" y="705.5" width="5.0" height="11.0" fill="#0000FF" stroke="#000"/>
<rect x="1001.5" y="696.5" width="6.0" height="20.0" fill="#FFFF00" stroke="#000"/>
<rect x="1012.5" y="713.5" width="5.0" height="3.0" fill="#0000FF" stroke="#000"/>
<rect x="1017.5" y="709.5" width="5.0" height="7.0" fill="#FFFF00" stroke="#000"/>
<rect x="1028.5" y="713.5" width="5.0" height="3.0" fill="#0000FF" stroke="#000"/>
<rect x="1033.5" y="715.5" width="5.0" height="1.0" fill="#FFFF00" stroke="#000"/>
<path d="M1043.0 716.5H1049.0" stroke="#000" fill="none"/>
<path d="M1048.0 716.0H1055.0" stroke="#000" stroke-width="2" fill="none"/>
<path d="M1059.0 716.5H1065.0" stroke="#000" fill="none"/>
<path d="M1064.0 716.0H1070.0" stroke="#000" stroke-width="2" fill="none"/>
<path d="M1074.0 716.5H1081.0" stroke="#000" fill="none"/>
<path d="M1080.0 716.0H1086.0" stroke="#000" stroke-width="2" fill="none"/>
<path d="M1090.0 716.0H1096.0" stroke="#000" stroke-width="2" fill="none"/>
<path d="M1095.0 716.0H1102.0" stroke="#000" stroke-width="2" fill="none"/>
<path d="M1106.0 716.5H1112.0" stroke="#000" fill="none"/>
<path d="M1111.0 716.5H1117.0" stroke="#000" fill="none"/>
<path d="M1121.0 716.5H1128.0" stroke="#000" fill="none"/>
<path d="M1127.0 716.5H1133.0" stroke="#000" fill="none"/>
<path d="M1137.0 716.0H1143.0" stroke="#000" stroke-width="2" fill="none"/>
<path d="M1142.0 716.0H1148.0" stroke="#000" stroke-width="2" fill="none"/>
</g>
<g class="c">
<path d="M666 716.5h-9M666 671.5h-9M666 626.5h-9M666 582.5h-9M666 537.5h-9M666 492.5h-9" stroke="#000" fill="none"/>
</g>
<text transform="translate(647,716.5) rotate(-90)" x="-3.5" y="0" textLength="7" lengthAdjust="spacingAndGlyphs" class="ax">0</text>
<text transform="translate(647,671.5) rotate(-90)" x="-10.5" y="0" textLength="21" lengthAdjust="spacingAndGlyphs" class="ax">100</text>
<text transform="translate(647,626.5) rotate(-90)" x="-10.5" y="0" textLength="21" lengthAdjust="spacingAndGlyphs" class="ax">200</text>
<text transform="translate(647,582.5) rotate(-90)" x="-10.5" y="0" textLength="21" lengthAdjust="spacingAndGlyphs" class="ax">300</text>
<text transform="translate(647,537.5) rotate(-90)" x="-10.5" y="0" textLength="21" lengthAdjust="spacingAndGlyphs" class="ax">400</text>
<text transform="translate(647,492.5) rotate(-90)" x="-10.5" y="0" textLength="21" lengthAdjust="spacingAndGlyphs" class="ax">500</text>
<text x="650.0" y="748" textLength="77" lengthAdjust="spacingAndGlyphs" class="ax">[-0.128,-0.12)</text>
<text x="749.0" y="748" textLength="98" lengthAdjust="spacingAndGlyphs" class="ax">[-0.0767,-0.0694)</text>
<text x="858.5" y="748" textLength="98" lengthAdjust="spacingAndGlyphs" class="ax">[-0.0257,-0.0184)</text>
<text x="972.0" y="748" textLength="90" lengthAdjust="spacingAndGlyphs" class="ax">[0.0253,0.0326)</text>
<text x="1081.5" y="748" textLength="90" lengthAdjust="spacingAndGlyphs" class="ax">[0.0763,0.0836)</text>
<text x="898.0" y="779.5" textLength="33" lengthAdjust="spacingAndGlyphs" class="ax">return</text>
<text transform="translate(615,593) rotate(-90)" x="-28.0" y="0" textLength="56" lengthAdjust="spacingAndGlyphs" class="ax">frequency</text>
<g class="c"><rect x="993.5" y="465.5" width="173" height="48" fill="#fff" stroke="#000"/>
<rect x="1005.5" y="477.5" width="9" height="9" fill="#0000FF" stroke="#000"/><rect x="1005.5" y="493.5" width="9" height="9" fill="#FFFF00" stroke="#000"/></g>
<text x="1026.3" y="486.7" textLength="122" lengthAdjust="spacingAndGlyphs" class="ax">DLY return frequency</text>
<text x="1026.3" y="502.7" textLength="134" lengthAdjust="spacingAndGlyphs" class="ax">GSPC return frequency</text>
<g class="c">
<rect x="665.5" y="465.5" width="501" height="253" fill="none" stroke="#000" stroke-width="1"/>
<path d="M993.5 465.5V513.5H1166.5" stroke="#000" fill="none"/>
</g>
</svg>
</body></html>
